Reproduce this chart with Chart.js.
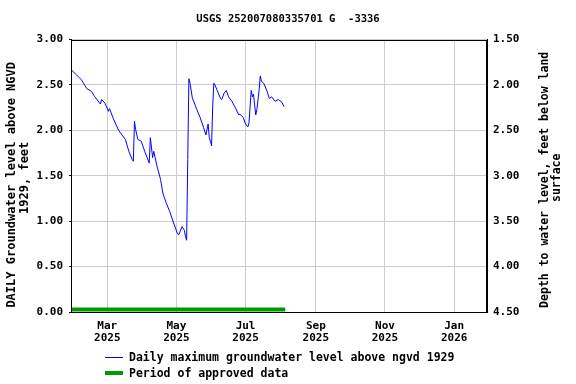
<!DOCTYPE html>
<html>
<head>
<meta charset="utf-8">
<script src="https://cdn.jsdelivr.net/npm/chart.js@4"></script>
<style>
  html, body { margin: 0; padding: 0; background: #fff; }
  #wrap { position: relative; width: 576px; height: 384px; }
  #legend {
    position: absolute; left: 105px; top: 349px;
    font: bold 11.5px "DejaVu Sans Mono", monospace; color: #000;
  }
  .row { display: flex; align-items: center; height: 16px; }
  .swatch { width: 18px; margin-right: 6px; }
</style>
</head>
<body>
<div id="wrap">
  <canvas id="chart" width="576" height="384"></canvas>
  <div id="legend">
    <div class="row"><span class="swatch" style="height:1px;background:#0000ff"></span>Daily maximum groundwater level above ngvd 1929</div>
    <div class="row"><span class="swatch" style="height:4px;background:#009900"></span>Period of approved data</div>
  </div>
</div>
<script>
  /* --- Data --- */
  const levelDates = [
    '2025-01-28', '2025-02-02', '2025-02-06', '2025-02-11', '2025-02-15', '2025-02-18',
    '2025-02-23', '2025-02-24', '2025-02-27', '2025-03-02', '2025-03-03', '2025-03-06',
    '2025-03-11', '2025-03-17', '2025-03-20', '2025-03-23', '2025-03-24', '2025-03-25',
    '2025-03-26', '2025-03-28', '2025-03-31', '2025-04-03', '2025-04-07', '2025-04-08',
    '2025-04-10', '2025-04-11', '2025-04-14', '2025-04-17', '2025-04-19', '2025-04-22',
    '2025-04-25', '2025-04-28', '2025-05-02', '2025-05-03', '2025-05-06', '2025-05-08',
    '2025-05-09', '2025-05-10', '2025-05-11', '2025-05-12', '2025-05-13', '2025-05-15',
    '2025-05-19', '2025-05-22', '2025-05-25', '2025-05-27', '2025-05-29', '2025-05-30',
    '2025-05-31', '2025-06-01', '2025-06-02', '2025-06-03', '2025-06-04', '2025-06-06',
    '2025-06-09', '2025-06-10', '2025-06-12', '2025-06-14', '2025-06-16', '2025-06-19',
    '2025-06-22', '2025-06-25', '2025-06-26', '2025-06-29', '2025-07-01', '2025-07-03',
    '2025-07-04', '2025-07-05', '2025-07-06', '2025-07-07', '2025-07-08', '2025-07-09',
    '2025-07-10', '2025-07-11', '2025-07-13', '2025-07-14', '2025-07-15', '2025-07-17',
    '2025-07-20', '2025-07-22', '2025-07-24', '2025-07-27', '2025-07-30', '2025-08-02',
    '2025-08-04'
  ];
  const levelValues = [
    2.67, 2.61, 2.56, 2.46, 2.43, 2.37,
    2.29, 2.34, 2.30, 2.21, 2.24, 2.14,
    2.00, 1.90, 1.77, 1.68, 1.66, 2.10,
    2.01, 1.90, 1.88, 1.77, 1.64, 1.92,
    1.70, 1.77, 1.60, 1.46, 1.31, 1.20,
    1.11, 1.00, 0.86, 0.85, 0.94, 0.90,
    0.83, 0.79, 1.68, 2.57, 2.52, 2.36,
    2.23, 2.14, 2.03, 1.95, 2.07, 1.92,
    1.88, 1.83, 2.26, 2.52, 2.50, 2.44,
    2.35, 2.34, 2.41, 2.44, 2.37, 2.32,
    2.25, 2.17, 2.18, 2.14, 2.07, 2.04,
    2.08, 2.26, 2.44, 2.37, 2.40, 2.28,
    2.17, 2.23, 2.45, 2.60, 2.54, 2.52,
    2.43, 2.35, 2.37, 2.32, 2.34, 2.31,
    2.26
  ];
  const approvedDates = ['2025-01-28', '2025-08-05'];
  const approvedValues = [0.028, 0.028];

  const axisRange = ['2025-01-28', '2026-01-30'];
  const tickDates = ['2025-03-01', '2025-05-01', '2025-07-01', '2025-09-01', '2025-11-01', '2026-01-01'];
  const tickLabels = [['Mar', '2025'], ['May', '2025'], ['Jul', '2025'], ['Sep', '2025'], ['Nov', '2025'], ['Jan', '2026']];

  // days since 2025-01-01 (no date adapter available)
  function toDay(s) {
    const p = s.split('-').map(Number);
    return (Date.UTC(p[0], p[1] - 1, p[2]) - Date.UTC(2025, 0, 1)) / 86400000;
  }
  const tickDays = tickDates.map(toDay);

  Chart.defaults.font.family = "'DejaVu Sans Mono', monospace";
  Chart.defaults.font.weight = 'bold';
  Chart.defaults.font.size = 11;
  Chart.defaults.color = '#000';

  const gridColor = '#cccccc';

  function rotatedText(ctx, lines, x, y, lineGap, size) {
    ctx.save();
    ctx.fillStyle = '#000';
    ctx.font = 'bold ' + size + "px 'DejaVu Sans Mono', monospace";
    ctx.textAlign = 'center';
    ctx.textBaseline = 'middle';
    lines.forEach((l, i) => {
      ctx.save();
      ctx.translate(x + i * lineGap, y[i]);
      ctx.rotate(-Math.PI / 2);
      ctx.fillText(l, 0, 0);
      ctx.restore();
    });
    ctx.restore();
  }

  const frame = {
    id: 'frame',
    afterDatasetsDraw(chart) {
      const a = chart.chartArea;
      const ctx = chart.ctx;
      ctx.save();
      ctx.strokeStyle = '#000';
      ctx.lineWidth = 1;
      ctx.strokeRect(Math.round(a.left) + 0.5, Math.round(a.top) + 0.5,
        Math.round(a.right - a.left) - 1, Math.round(a.bottom - a.top));
      ctx.restore();
    },
    afterDraw(chart) {
      // both axis titles read bottom-to-top
      const a = chart.chartArea;
      const mid = (a.top + a.bottom) / 2;
      rotatedText(chart.ctx, ['DAILY Groundwater level above NGVD', '1929, feet'],
        a.left - 59.5, [mid + 9, mid + 2], 13.3, 12);
      rotatedText(chart.ctx, ['Depth to water level, feet below land', 'surface'],
        a.right + 58, [mid + 4, mid + 2], 12.5, 11.5);
    }
  };

  new Chart(document.getElementById('chart'), {
    type: 'line',
    data: {
      datasets: [
        {
          label: 'Daily maximum groundwater level above ngvd 1929',
          data: levelDates.map((d, i) => ({ x: toDay(d), y: levelValues[i] })),
          borderColor: '#0000ff',
          borderWidth: 1,
          pointRadius: 0,
          tension: 0,
          yAxisID: 'y'
        },
        {
          label: 'Period of approved data',
          data: approvedDates.map((d, i) => ({ x: toDay(d), y: approvedValues[i] })),
          borderColor: '#009900',
          borderWidth: 4,
          borderCapStyle: 'butt',
          pointRadius: 0,
          yAxisID: 'y'
        }
      ]
    },
    options: {
      responsive: false,
      animation: false,
      layout: { padding: { bottom: 32 } },
      plugins: {
        legend: { display: false },
        tooltip: { enabled: false },
        title: {
          display: true,
          text: 'USGS 252007080335701 G  -3336',
          font: { size: 10.5, weight: 'bold', lineHeight: 1.2 },
          color: '#000',
          padding: { top: 13, bottom: 14 }
        }
      },
      scales: {
        x: {
          type: 'linear',
          min: toDay(axisRange[0]),
          max: toDay(axisRange[1]),
          afterBuildTicks: (s) => { s.ticks = tickDays.map((v) => ({ value: v })); },
          afterFit: (s) => { s.height = 40; },
          grid: { color: gridColor, drawTicks: false },
          border: { color: '#000' },
          ticks: {
            padding: 8,
            maxRotation: 0,
            font: { size: 11, lineHeight: 1.07 },
            callback: (v) => tickLabels[tickDays.indexOf(v)]
          }
        },
        y: {
          position: 'left',
          min: 0,
          max: 3,
          afterFit: (s) => { s.width = 71; },
          grid: { color: gridColor, tickColor: '#000', tickLength: 2 },
          border: { color: '#000' },
          ticks: { stepSize: 0.5, padding: 6, callback: (v) => v.toFixed(2) }
        },
        y2: {
          position: 'right',
          min: 1.5,
          max: 4.5,
          reverse: true,
          afterFit: (s) => { s.width = 89; },
          grid: { drawOnChartArea: false, drawTicks: false },
          border: { color: '#000' },
          ticks: { stepSize: 0.5, padding: 6, callback: (v) => v.toFixed(2) }
        }
      }
    },
    plugins: [frame]
  });
</script>
</body>
</html>
